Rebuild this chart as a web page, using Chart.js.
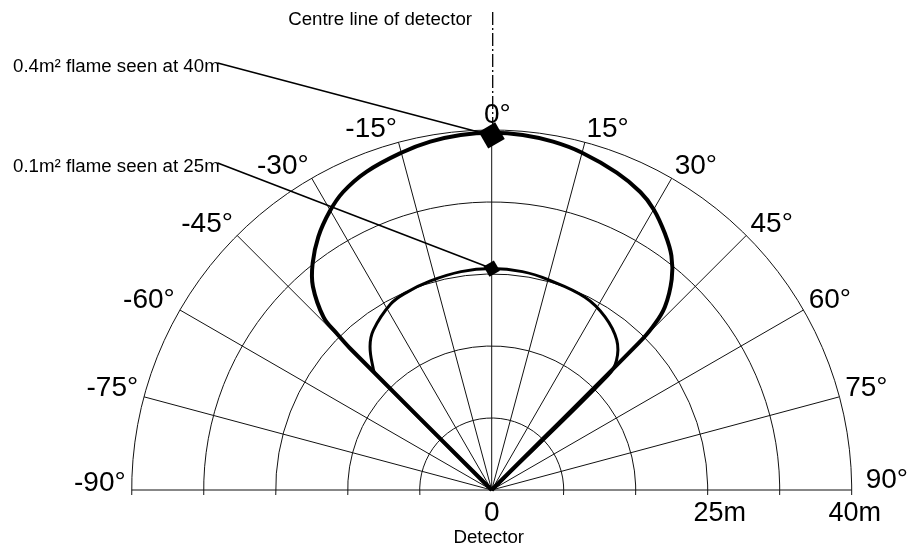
<!DOCTYPE html>
<html>
<head>
<meta charset="utf-8">
<script src="https://cdn.jsdelivr.net/npm/chart.js@4"></script>
<style>
html,body{margin:0;padding:0;background:#fff;}
#wrap{width:910px;height:547px;position:relative;}
</style>
</head>
<body>
<div id="wrap"><canvas id="c" width="910" height="547"></canvas></div>
<script>
// ---- data (angles in degrees from the centre line, ranges in metres) ----
const angleTicks  = [-90, -75, -60, -45, -30, -15, 0, 15, 30, 45, 60, 75, 90];
const angleLabels = ['-90°', '-75°', '-60°', '-45°', '-30°', '-15°', '0°', '15°', '30°', '45°', '60°', '75°', '90°'];
const rangeRings  = [8, 16, 24, 32, 40];
const rangeLabelValues = [0, 25, 40];
const rangeLabelTexts  = ['0', '25m', '40m'];

const outerAngles = [-45, -45, -44.7, -44.2, -41.3, -38.3, -34.4, -30.2, -26.5, -21.5, -15, -10, -5, 0,
                     5, 10, 15, 21.5, 26.5, 30, 34, 37.5, 40.5, 43.4, 44.6, 45, 45];
const outerRanges = [0, 22.2, 24.5, 26.8, 30.1, 32.1, 34.1, 35.8, 37.0, 38.0, 38.8, 39.3, 39.6, 39.7,
                     39.6, 39.3, 38.8, 37.9, 37.0, 36.0, 34.4, 32.8, 30.8, 28.0, 25.5, 23.0, 0];

const innerAngles = [-45, -45, -44.2, -40.3, -36.5, -28.6, -23.4, -16.5, -8, 0, 8, 15, 25.8, 33.2, 39.8, 43.9, 45.5, 45];
const innerRanges = [0, 18.3, 18.9, 20.9, 22.1, 23.5, 23.9, 24.2, 24.5, 24.6, 24.5, 24.2, 23.8, 23.0, 21.7, 20.0, 18.1, 0];

const markerAngles = [0, 0];
const markerRanges = [39.4, 24.6];
const markerTexts  = ['0.4m² flame seen at 40m', '0.1m² flame seen at 25m'];

const centreLineText = 'Centre line of detector';
const originText = 'Detector';

// ---- helpers ----
const rad = d => d * Math.PI / 180;
const toXY = (angles, ranges) => angles.map((a, i) => ({ x: ranges[i] * Math.sin(rad(a)), y: ranges[i] * Math.cos(rad(a)) }));

const FONT = '"Liberation Sans", Arial, Helvetica, sans-serif';

const gridPlugin = {
  id: 'polarGrid',
  beforeDatasetsDraw(chart) {
    const { ctx, scales: { x, y } } = chart;
    const cx = x.getPixelForValue(0), cy = y.getPixelForValue(0);
    const maxR = rangeRings[rangeRings.length - 1];
    const R = x.getPixelForValue(maxR) - cx;
    ctx.save();
    ctx.strokeStyle = '#111';
    ctx.lineWidth = 1;
    rangeRings.forEach(r => {
      const pr = x.getPixelForValue(r) - cx;
      const e = Math.asin(5 / pr);
      ctx.beginPath();
      ctx.arc(cx, cy, pr, Math.PI - e, 2 * Math.PI + e);
      ctx.stroke();
    });
    angleTicks.forEach(a => {
      ctx.beginPath();
      ctx.moveTo(cx, cy);
      ctx.lineTo(cx + R * Math.sin(rad(a)), cy - R * Math.cos(rad(a)));
      ctx.stroke();
    });
    ctx.restore();
  },
  afterDatasetsDraw(chart) {
    const { ctx, scales: { x, y } } = chart;
    const cx = x.getPixelForValue(0), cy = y.getPixelForValue(0);
    const maxR = rangeRings[rangeRings.length - 1];
    const R = x.getPixelForValue(maxR) - cx;
    ctx.save();
    ctx.fillStyle = '#000';
    ctx.strokeStyle = '#000';

    // centre line (dash-dot)
    ctx.lineWidth = 1.3;
    ctx.setLineDash([13, 3, 2, 3]);
    ctx.beginPath();
    ctx.moveTo(cx + 1, 12);
    ctx.lineTo(cx + 1, cy - R - 4);
    ctx.stroke();
    ctx.setLineDash([]);

    // angle labels
    ctx.font = '28px ' + FONT;
    ctx.textBaseline = 'alphabetic';
    const RL = R + 6;
    angleTicks.forEach((a, i) => {
      const ax = cx + RL * Math.sin(rad(a));
      const ay = cy - RL * Math.cos(rad(a)) + 1;
      const t = angleLabels[i];
      if (a === 0) {
        ctx.textAlign = 'left';
        const w = ctx.measureText('0').width;
        ctx.fillText(t, cx - w / 2, ay - 2);
      } else if (a > 0) {
        ctx.textAlign = 'left';
        ctx.fillText(t, ax + (a === 90 ? 8 : 0), Math.min(ay, cy - 2));
      } else {
        ctx.textAlign = 'right';
        ctx.fillText(t, ax, ay);
      }
    });

    // range labels
    ctx.textAlign = 'center';
    rangeLabelValues.forEach((v, i) => {
      const px = x.getPixelForValue(v);
      ctx.font = (v === 0 ? '28px ' : '27px ') + FONT;
      ctx.fillText(rangeLabelTexts[i], px + (v === 0 ? 0 : 3), cy + 31);
    });
    ctx.font = '18.7px ' + FONT;
    ctx.fillText(originText, cx - 3, cy + 53);

    // centre line title
    ctx.textAlign = 'right';
    ctx.fillText(centreLineText, 472, 25);

    // marker callouts
    ctx.textAlign = 'left';
    const textY = [72, 172];
    ctx.lineWidth = 1.6;
    markerTexts.forEach((t, i) => {
      ctx.fillText(t, 13, textY[i]);
      const w = ctx.measureText(t).width;
      const mx = x.getPixelForValue(markerRanges[i] * Math.sin(rad(markerAngles[i])));
      const my = y.getPixelForValue(markerRanges[i] * Math.cos(rad(markerAngles[i])));
      ctx.beginPath();
      ctx.moveTo(13 + w - 2, textY[i] - 9);
      ctx.lineTo(mx, my);
      ctx.stroke();
    });
    ctx.restore();
  }
};

const cw = 910, ch = 547, pxPerM = 9, cxPx = 491.7, cyPx = 490;

new Chart(document.getElementById('c'), {
  type: 'scatter',
  data: {
    datasets: [
      {
        label: 'markers',
        data: toXY(markerAngles, markerRanges),
        pointStyle: 'rect',
        rotation: 60,
        pointRadius: [13.5, 8.5],
        pointHoverRadius: [13.5, 8.5],
        backgroundColor: '#000',
        borderColor: '#000',
        borderWidth: 0,
        showLine: false,
        clip: false
      },
      {
        label: '0.4m² flame',
        data: toXY(outerAngles, outerRanges),
        showLine: true,
        borderColor: '#000',
        borderWidth: 4,
        pointRadius: 0,
        tension: 0.4,
        fill: false,
        borderJoinStyle: 'round',
        clip: false
      },
      {
        label: '0.1m² flame',
        data: toXY(innerAngles, innerRanges),
        showLine: true,
        borderColor: '#000',
        borderWidth: 3,
        pointRadius: 0,
        tension: 0.4,
        fill: false,
        borderJoinStyle: 'round',
        clip: false
      }
    ]
  },
  options: {
    responsive: false,
    animation: false,
    devicePixelRatio: 1,
    layout: { padding: 0, autoPadding: false },
    plugins: { legend: { display: false }, tooltip: { enabled: false } },
    events: [],
    scales: {
      x: { type: 'linear', display: false, min: -cxPx / pxPerM, max: (cw - cxPx) / pxPerM },
      y: { type: 'linear', display: false, min: -(ch - cyPx) / pxPerM, max: cyPx / pxPerM }
    }
  },
  plugins: [gridPlugin]
});
</script>
</body>
</html>
